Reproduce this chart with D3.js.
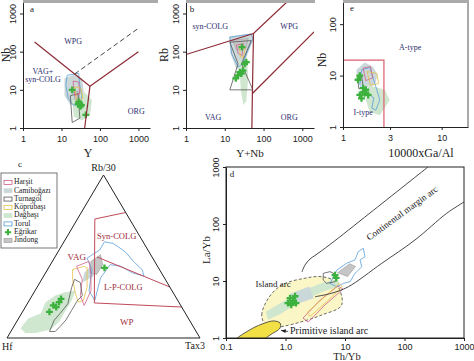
<!DOCTYPE html>
<html>
<head>
<meta charset="utf-8">
<script src="https://cdn.jsdelivr.net/npm/d3@7"></script>
<style>
  body { margin: 0; background: #fff; }
  svg { display: block; font-family: "Liberation Serif", "Times New Roman", serif; }
</style>
</head>
<body>
<svg id="fig" width="474" height="361"></svg>
<script>
// groups (legend order)
const groups = ['Harşit', 'Camiboğazı', 'Turnagöl', 'Köprübaşı', 'Dağbaşı', 'Torul', 'Eğrikar', 'Jindong'];

// a: Nb vs Y
const aTicks = [1, 10, 100, 1000];
const aLineWPG = [[2, 180], [55, 12.4], [1000, 100]];
const aLineVAG = [[55, 12.4], [40, 1]];
const aLineDash = [[22, 26], [1000, 410]];
const aFields = [
  ['Camiboğazı', [[12, 20], [21, 25], [34, 20], [38, 9], [30, 5], [17, 4], [12, 7]]],
  ['Dağbaşı', [[19, 5.5], [38, 9], [62, 5.4], [55, 2.2], [34, 1.6], [21, 2]]],
  ['Jindong', [[22, 9], [29, 9], [29, 5.5], [22, 5.5]]],
  ['Torul', [[14, 24], [28, 27], [30, 13], [34, 7], [30, 4], [20, 4], [15, 6], [13, 13]]],
  ['Turnagöl', [[17, 7], [27, 8], [30, 1.8], [19, 1.4]]],
  ['Harşit', [[20, 17], [28, 16], [30, 8], [22, 7]]],
  ['Köprübaşı', [[22, 12], [32, 11], [36, 6], [25, 5]]]
];
const aEgrikar = [[19, 10], [28, 4.8], [30, 4.3], [33, 4.0], [31, 3.7], [27, 4.2], [43, 2.2]];

// b: Rb vs Y+Nb
const bTicks = [1, 10, 100, 1000];
const bLine1 = [[1, 84], [55, 300], [400, 2000]];
const bLine2 = [[55, 300], [51.5, 8], [50, 1]];
const bLine3 = [[51.5, 8], [2000, 330]];
const bFields = [
  ['Camiboğazı', [[13, 250], [50, 300], [55, 220], [38, 80], [30, 40], [20, 35], [14, 90]]],
  ['Dağbaşı', [[22, 60], [38, 55], [40, 20], [36, 5], [30, 4], [26, 10], [24, 30]]],
  ['Jindong', [[16, 200], [40, 220], [35, 120], [20, 110]]],
  ['Torul', [[13.5, 240], [48, 290], [53, 217], [36, 88], [29, 48], [22, 40], [15, 88]]],
  ['Turnagöl', [[13.5, 177], [48, 195], [27, 48], [53, 10], [13.5, 10], [22, 48]]],
  ['Harşit', [[20, 150], [30, 160], [28, 80], [22, 90]]],
  ['Köprübaşı', [[24, 140], [34, 130], [30, 70], [25, 75]]]
];
const bEgrikar = [[27.8, 131], [32.6, 48], [36, 53], [29.5, 32], [24.3, 29], [26.8, 26.6], [22, 24], [19.2, 20]];

// e: Nb vs 10000*Ga/Al
const eXTicks = [1, 3, 10];
const eYTicks = [1, 10, 100];
const eBox = [[1, 20], [2.6, 20], [2.6, 1]];
const eFields = [
  ['Camiboğazı', [[1.37, 13], [1.66, 18], [2.0, 15], [2.25, 10.4], [2.1, 6.6], [1.66, 5.8], [1.38, 7.6]]],
  ['Dağbaşı', [[1.78, 6.6], [2.65, 5.3], [2.98, 3.35], [2.36, 1.7], [1.87, 1.95], [1.7, 3.35]]],
  ['Torul', [[1.55, 13], [1.87, 14.3], [2.05, 8.3], [2.2, 5.3], [2.36, 3.35], [2.15, 2.13], [1.96, 2.33], [2.05, 3.7], [1.7, 4.8], [1.48, 6.6]]],
  ['Harşit', [[1.6, 14], [1.9, 15], [2.0, 9], [1.7, 8]]],
  ['Köprübaşı', [[1.75, 12], [2.2, 11], [2.3, 7], [1.9, 6.5]]],
  ['Turnagöl', [[1.4, 9], [1.55, 9.5], [1.6, 6], [1.45, 5.5]]]
];
const eEgrikar = [[1.42, 8.3], [1.48, 10], [1.6, 5.7], [1.66, 4.5], [1.54, 3.6], [1.48, 4.2], [1.8, 4.2], [1.7, 5.3], [1.62, 4.8]];

// c: ternary [Hf, Rb/30, Ta*3]
const cLine1 = [[0, 0.77, 0.23], [0.18, 0.73, 0.09], [0.44, 0.215, 0.345], [0, 0.19, 0.81]];
const cLine2 = [[0.285, 0.497, 0.218], [0, 0.313, 0.687]];
const cFields = [
  ['Dağbaşı', [[.90, .06, .04], [.83, .12, .05], [.75, .15, .10], [.69, .22, .09], [.62, .26, .12], [.56, .28, .16], [.50, .29, .21], [.55, .23, .22], [.61, .17, .22], [.68, .10, .22], [.75, .05, .20], [.84, .03, .13], [.89, .03, .08]]],
  ['Camiboğazı', [[.40, .40, .20], [.32, .46, .22], [.36, .38, .26], [.44, .34, .22]]],
  ['Jindong', [[.33, .47, .20], [.26, .51, .23], [.28, .45, .27], [.34, .39, .27], [.37, .40, .23]]],
  ['Torul', [[.34, .49, .17], [.25, .54, .21], [.20, .59, .21], [.16, .58, .26], [.13, .54, .33], [.12, .52, .36], [.11, .47, .42], [.09, .42, .49], [.10, .38, .52], [.15, .40, .45], [.19, .44, .37], [.24, .45, .31], [.33, .37, .30], [.43, .23, .34], [.43, .29, .28], [.35, .42, .23]]],
  ['Köprübaşı', [[.45, .42, .13], [.38, .44, .18], [.37, .43, .20], [.43, .31, .26], [.49, .23, .28], [.52, .22, .26], [.51, .27, .22], [.48, .36, .16]]],
  ['Harşit', [[.42, .44, .14], [.34, .47, .19], [.37, .39, .24], [.42, .29, .29], [.50, .20, .30], [.49, .26, .25], [.43, .36, .21]]],
  ['Turnagöl', [[.76, .04, .20], [.70, .11, .19], [.65, .15, .20], [.58, .21, .21], [.51, .31, .18], [.47, .36, .17], [.45, .34, .21], [.48, .26, .26], [.52, .23, .25], [.58, .17, .25], [.64, .11, .25], [.69, .07, .24], [.73, .04, .23]]]
];
const cEgrikar = [[.28, .43, .29], [.60, .24, .16], [.66, .20, .14], [.70, .16, .14], [.65, .19, .16], [.62, .22, .16]];

// d: La/Yb vs Th/Yb
const dXTicks = [0.1, 1, 10, 100, 1000];
const dXLabels = ['0.1', '1.0', '10', '100', '1000'];
const dYTicks = [1, 10, 100, 1000];
const dArcUpper = [[1.89, 14.4], [2.13, 19.1], [2.58, 24.3], [3.13, 28], [5.6, 43.7], [26.3, 156], [248, 1000]];
const dArcLower = [[3.13, 5.3], [5.97, 6.1], [11.3, 7.9], [41.4, 20.4], [150, 52.4], [512, 154], [1000, 243]];
const dIslandArc = [[0.452, 1.69], [0.398, 2.53], [0.514, 4.97], [0.863, 8.5], [2.13, 11.2], [4.06, 11.9], [6.8, 9.7], [8.8, 3.8], [4.06, 2.53], [1.87, 1.93], [0.863, 1.58], [0.514, 1.48]];
const dPrimitive = [[0.147, 0.92], [0.234, 1.33], [0.403, 1.76], [0.641, 1.99], [0.81, 1.83], [0.81, 1.5], [0.55, 1.13], [0.403, 0.92]];
const dFields = [
  ['Dağbaşı', [[0.47, 2.9], [0.98, 4.6], [2.1, 7], [4.6, 9.6], [7.6, 10.8], [8.2, 8.2], [4.1, 6.4], [1.75, 4.3], [0.81, 2.6], [0.51, 2.1]]],
  ['Camiboğazı', [[1.2, 6], [2.5, 8], [3.0, 5], [1.4, 3.8]]],
  ['Jindong', [[7.5, 14], [12, 20], [15, 18], [11, 12]]],
  ['Torul', [[7.3, 15.6], [10.7, 20.5], [14.7, 23.4], [16.7, 32.7], [20.3, 37.5], [21.7, 26.7], [17.9, 23.4], [19.1, 17.8], [14.7, 13.6], [12.1, 9.7], [9.4, 9.1], [7.3, 7.9], [5.6, 9.1]]],
  ['Harşit', [[1.97, 2.24], [3.8, 4.6], [7.6, 8.2], [9.25, 7.2], [4.6, 3.8], [2.4, 1.9]]],
  ['Köprübaşı', [[2.3, 2.8], [4.5, 5.2], [8, 9], [9, 8], [5, 4.4], [2.6, 2.4]]],
  ['Turnagöl', [[4.3, 13.6], [5.6, 14.6], [7.3, 12.7], [6.8, 9.7], [4.9, 9.1], [4.3, 10.4]]]
];
const dEgrikar = [[1.19, 5.0], [1.34, 4.5], [1.1, 4.1], [1.45, 5.4], [1.5, 4.1], [1.25, 3.8], [6.8, 12.7], [7.1, 11.3]];

// styles
const groupStyle = {
  'Harşit': { fill: 'none', stroke: '#d0608a' },
  'Camiboğazı': { fill: '#cbd8da', stroke: 'none' },
  'Turnagöl': { fill: 'none', stroke: '#555' },
  'Köprübaşı': { fill: 'none', stroke: '#e6bf4a' },
  'Dağbaşı': { fill: '#cfe6cf', stroke: 'none' },
  'Torul': { fill: 'none', stroke: '#5a9fd8' },
  'Eğrikar': { fill: '#3db13d', stroke: 'none' },
  'Jindong': { fill: '#c6c6c6', stroke: '#aaa' }
};
const fieldRed = '#8c2a35';
const labelBlue = '#2d2d6e';

const svg = d3.select('#fig');
const lineGen = d3.line();
const closedGen = d3.line().curve(d3.curveLinearClosed);

function drawFields(layer, fields, proj) {
  layer.selectAll('path.fld').data(fields).join('path')
    .attr('class', 'fld')
    .attr('d', d => closedGen(d[1].map(proj)))
    .attr('fill', d => groupStyle[d[0]].fill)
    .attr('stroke', d => groupStyle[d[0]].stroke)
    .attr('stroke-width', 0.8);
}

function drawPts(layer, pts, proj) {
  const sym = d3.symbol(d3.symbolCross, 26);
  layer.selectAll('path.pt').data(pts).join('path')
    .attr('class', 'pt')
    .attr('transform', d => `translate(${proj(d)})`)
    .attr('d', sym)
    .attr('fill', groupStyle['Eğrikar'].fill);
}

// log-log panel with axes
function logPanel(o) {
  const x = d3.scaleLog().domain(o.xd).range([o.l, o.r]);
  const y = d3.scaleLog().domain(o.yd).range([o.b, o.t]);
  const g = svg.append('g');
  svg.append('clipPath').attr('id', 'clip-' + o.id)
    .append('rect').attr('x', o.l).attr('y', o.t).attr('width', o.r - o.l).attr('height', o.b - o.t);
  const plot = g.append('g').attr('clip-path', `url(#clip-${o.id})`);

  const xa = g.append('g').attr('transform', `translate(0,${o.b})`)
    .call(d3.axisBottom(x).tickValues(o.xt).tickFormat((d, i) => o.xl ? o.xl[i] : d)
      .tickSize(3).tickSizeOuter(0).tickPadding(o.xpad || 5));
  const ya = g.append('g').attr('transform', `translate(${o.l},0)`)
    .call(d3.axisLeft(y).tickValues(o.yt).tickFormat(d => d).tickSize(3).tickSizeOuter(0));
  ya.selectAll('text')
    .attr('transform', 'rotate(-90)')
    .attr('x', 0).attr('y', -7).attr('dy', 0)
    .attr('text-anchor', 'middle');
  [xa, ya].forEach(a => {
    a.selectAll('text').attr('font-size', 9).attr('font-family', null).attr('fill', '#222');
    a.selectAll('line, path').attr('stroke', '#222');
  });
  return { x, y, g, plot, proj: d => [x(d[0]), y(d[1])] };
}

function label(g, txt, x, y, opt = {}) {
  return g.append('text').attr('x', x).attr('y', y).text(txt)
    .attr('font-size', opt.size || 8)
    .attr('fill', opt.fill || labelBlue)
    .attr('text-anchor', opt.anchor || 'middle')
    .attr('dominant-baseline', 'middle');
}

function yTitle(g, txt, x, y, size) {
  g.append('text').attr('transform', `translate(${x},${y}) rotate(-90)`)
    .attr('text-anchor', 'middle').attr('dominant-baseline', 'middle')
    .attr('font-size', size).attr('fill', '#222').text(txt);
}

// ---------- panel a ----------
const A = logPanel({ id: 'a', l: 23, r: 150, t: 2, b: 128, xd: [1, 2000], yd: [1, 2000], xt: aTicks, yt: aTicks });
svg.append('rect').attr('x', 23).attr('y', 0).attr('width', 135).attr('height', 3).attr('fill', '#aaa');
drawFields(A.plot, aFields, A.proj);
drawPts(A.plot, aEgrikar, A.proj);
A.plot.selectAll('path.bd').data([aLineWPG, aLineVAG]).join('path').attr('class', 'bd')
  .attr('d', d => lineGen(d.map(A.proj))).attr('fill', 'none').attr('stroke', fieldRed).attr('stroke-width', 1.2);
A.plot.append('path').attr('d', lineGen(aLineDash.map(A.proj)))
  .attr('fill', 'none').attr('stroke', '#444').attr('stroke-width', 1).attr('stroke-dasharray', '5,3');
label(A.g, 'a', 32, 10, { fill: '#222', size: 9 });
label(A.g, 'WPG', A.x(20), A.y(175));
label(A.g, 'VAG+', A.x(3.3), A.y(29));
label(A.g, 'syn-COLG', A.x(3.3), A.y(18));
label(A.g, 'ORG', A.x(880), A.y(2.6));
A.g.append('text').attr('x', 88).attr('y', 157).attr('text-anchor', 'middle').attr('font-size', 12).attr('fill', '#222').text('Y');
yTitle(A.g, 'Nb', 7, 55, 12);

// ---------- panel b ----------
const B = logPanel({ id: 'b', l: 186, r: 314, t: 2, b: 128, xd: [1, 2000], yd: [1, 2000], xt: bTicks, yt: bTicks });
svg.append('rect').attr('x', 186).attr('y', 0).attr('width', 129).attr('height', 3).attr('fill', '#aaa');
drawFields(B.plot, bFields, B.proj);
drawPts(B.plot, bEgrikar, B.proj);
B.plot.selectAll('path.bd').data([bLine1, bLine2, bLine3]).join('path').attr('class', 'bd')
  .attr('d', d => lineGen(d.map(B.proj))).attr('fill', 'none').attr('stroke', fieldRed).attr('stroke-width', 1.2);
label(B.g, 'b', 192, 10, { fill: '#222', size: 9 });
label(B.g, 'syn-COLG', B.x(4.2), B.y(450));
label(B.g, 'WPG', B.x(460), B.y(450));
label(B.g, 'VAG', B.x(5), B.y(1.8));
label(B.g, 'ORG', B.x(460), B.y(1.8));
B.g.append('text').attr('x', 250).attr('y', 157).attr('text-anchor', 'middle').attr('font-size', 11).attr('fill', '#222').text('Y+Nb');
yTitle(B.g, 'Rb', 165, 55, 12);

// ---------- panel e ----------
const E = logPanel({ id: 'e', l: 343, r: 468, t: 2, b: 127, xd: [1, 18.5], yd: [1, 270], xt: eXTicks, yt: eYTicks });
svg.append('rect').attr('x', 343).attr('y', 0).attr('width', 126).attr('height', 3).attr('fill', '#aaa');
E.g.append('line').attr('x1', 468).attr('x2', 468).attr('y1', 2).attr('y2', 127).attr('stroke', '#555');
drawFields(E.plot, eFields, E.proj);
drawPts(E.plot, eEgrikar, E.proj);
E.plot.append('path').attr('d', lineGen(eBox.map(E.proj)))
  .attr('fill', 'none').attr('stroke', '#d9606e').attr('stroke-width', 1.2);
label(E.g, 'e', 352, 9, { fill: '#222', size: 9 });
label(E.g, 'A-type', E.x(4.8), E.y(34));
label(E.g, 'I-type', E.x(1.6), E.y(1.85));
E.g.append('text').attr('x', 421).attr('y', 157).attr('text-anchor', 'middle').attr('font-size', 12).attr('fill', '#222').text('10000xGa/Al');
yTitle(E.g, 'Nb', 323, 60, 12);

// ---------- panel c (ternary) ----------
const tx = d3.scaleLinear().domain([0, 1]).range([7, 200]);
const ty = d3.scaleLinear().domain([0, 1]).range([338, 175]);
const tern = d => [tx(d[2] + d[1] / 2), ty(d[1])];
const C = svg.append('g');
drawFields(C, cFields, tern);
drawPts(C, cEgrikar, tern);
C.selectAll('path.bd').data([cLine1, cLine2]).join('path').attr('class', 'bd')
  .attr('d', d => lineGen(d.map(tern))).attr('fill', 'none').attr('stroke', '#c04a5a').attr('stroke-width', 1);
C.append('path').attr('d', closedGen([[1, 0, 0], [0, 1, 0], [0, 0, 1]].map(tern)))
  .attr('fill', 'none').attr('stroke', '#222').attr('stroke-width', 1);
const cRed = '#9e2a3a';
label(C, 'Syn-COLG', ...tern([0.121, 0.621, 0.258]), { fill: cRed, size: 8.5 });
label(C, 'VAG', ...tern([0.393, 0.491, 0.116]), { fill: cRed, size: 9 });
label(C, 'L-P-COLG', ...tern([0.245, 0.305, 0.45]), { fill: cRed, size: 8.5 });
label(C, 'WP', ...tern([0.335, 0.09, 0.575]), { fill: cRed, size: 9 });
label(C, 'Rb/30', tx(0.5), ty(1) - 6, { fill: '#222', size: 10 });
label(C, 'Hf', 2, 348, { fill: '#222', size: 10, anchor: 'start' });
label(C, 'Tax3', 195, 347, { fill: '#222', size: 10 });
label(C, 'c', 20, 165, { fill: '#222', size: 9 });

// legend
const leg = svg.append('g');
leg.append('rect').attr('x', 1).attr('y', 173).attr('width', 56).attr('height', 75)
  .attr('fill', '#fff').attr('stroke', '#555').attr('stroke-width', 0.8);
const ly = d3.scalePoint().domain(groups).range([182.5, 240.5]);
const li = leg.selectAll('g.li').data(groups).join('g').attr('class', 'li')
  .attr('transform', d => `translate(0,${ly(d)})`);
li.filter(d => d !== 'Eğrikar').append('rect')
  .attr('x', 4).attr('y', -2).attr('width', 8).attr('height', 4)
  .attr('fill', d => groupStyle[d].fill === 'none' ? '#fff' : groupStyle[d].fill)
  .attr('stroke', d => groupStyle[d].stroke === 'none' ? groupStyle[d].fill : groupStyle[d].stroke)
  .attr('stroke-width', 0.8);
li.filter(d => d === 'Eğrikar').append('path')
  .attr('transform', 'translate(8,0)').attr('d', d3.symbol(d3.symbolCross, 22)).attr('fill', groupStyle['Eğrikar'].fill);
li.append('text').attr('x', 14).attr('y', 0).attr('dominant-baseline', 'middle')
  .attr('font-size', 7.6).attr('fill', '#222').text(d => d);

// ---------- panel d ----------
const D = logPanel({ id: 'd', l: 226, r: 464, t: 167, b: 338, xd: [0.1, 1000], yd: [1, 1000], xt: dXTicks, xl: dXLabels, yt: dYTicks, xpad: 3 });
D.g.append('rect').attr('x', 226).attr('y', 167).attr('width', 238).attr('height', 171)
  .attr('fill', 'none').attr('stroke', '#222');
const smooth = d3.line().curve(d3.curveCatmullRomClosed);
D.plot.append('path').attr('d', smooth(dIslandArc.map(D.proj)))
  .attr('fill', '#fbf6c6').attr('stroke', '#444').attr('stroke-width', 0.8).attr('stroke-dasharray', '3,2');
D.plot.append('path').attr('d', smooth(dPrimitive.map(D.proj)))
  .attr('fill', '#f2df45').attr('stroke', '#333').attr('stroke-width', 0.8);
drawFields(D.plot, dFields, D.proj);
drawPts(D.plot, dEgrikar, D.proj);
const curve = d3.line().curve(d3.curveCatmullRom);
D.plot.selectAll('path.arc').data([dArcUpper, dArcLower]).join('path').attr('class', 'arc')
  .attr('d', d => curve(d.map(D.proj))).attr('fill', 'none').attr('stroke', '#333').attr('stroke-width', 0.9);
label(D.g, 'd', 232, 175, { fill: '#222', size: 9 });
label(D.g, 'Island arc', D.x(0.617), D.y(8.5), { fill: '#222', size: 9 });
D.g.append('text')
  .attr('transform', `translate(${D.x(92.5)},${D.y(150)}) rotate(-36)`)
  .attr('text-anchor', 'middle').attr('dominant-baseline', 'middle')
  .attr('font-size', 9.3).attr('fill', '#222').text('Continental margin arc');
label(D.g, 'Primitive island arc', D.x(1.19), D.y(1.27), { fill: '#222', size: 10, anchor: 'start' });
svg.append('defs').append('marker').attr('id', 'ah').attr('viewBox', '0 -5 10 10')
  .attr('refX', 10).attr('refY', 0).attr('markerWidth', 6).attr('markerHeight', 6).attr('orient', 'auto')
  .append('path').attr('d', 'M0,-4L10,0L0,4').attr('fill', '#222');
D.g.append('path').attr('d', lineGen([[1.1, 1.3], [0.84, 1.36]].map(D.proj)))
  .attr('stroke', '#222').attr('stroke-width', 0.8).attr('marker-end', 'url(#ah)');
D.g.append('text').attr('x', 347).attr('y', 360).attr('text-anchor', 'middle').attr('font-size', 10.5).attr('fill', '#222').text('Th/Yb');
yTitle(D.g, 'La/Yb', 207, 250, 11);
</script>
</body>
</html>
